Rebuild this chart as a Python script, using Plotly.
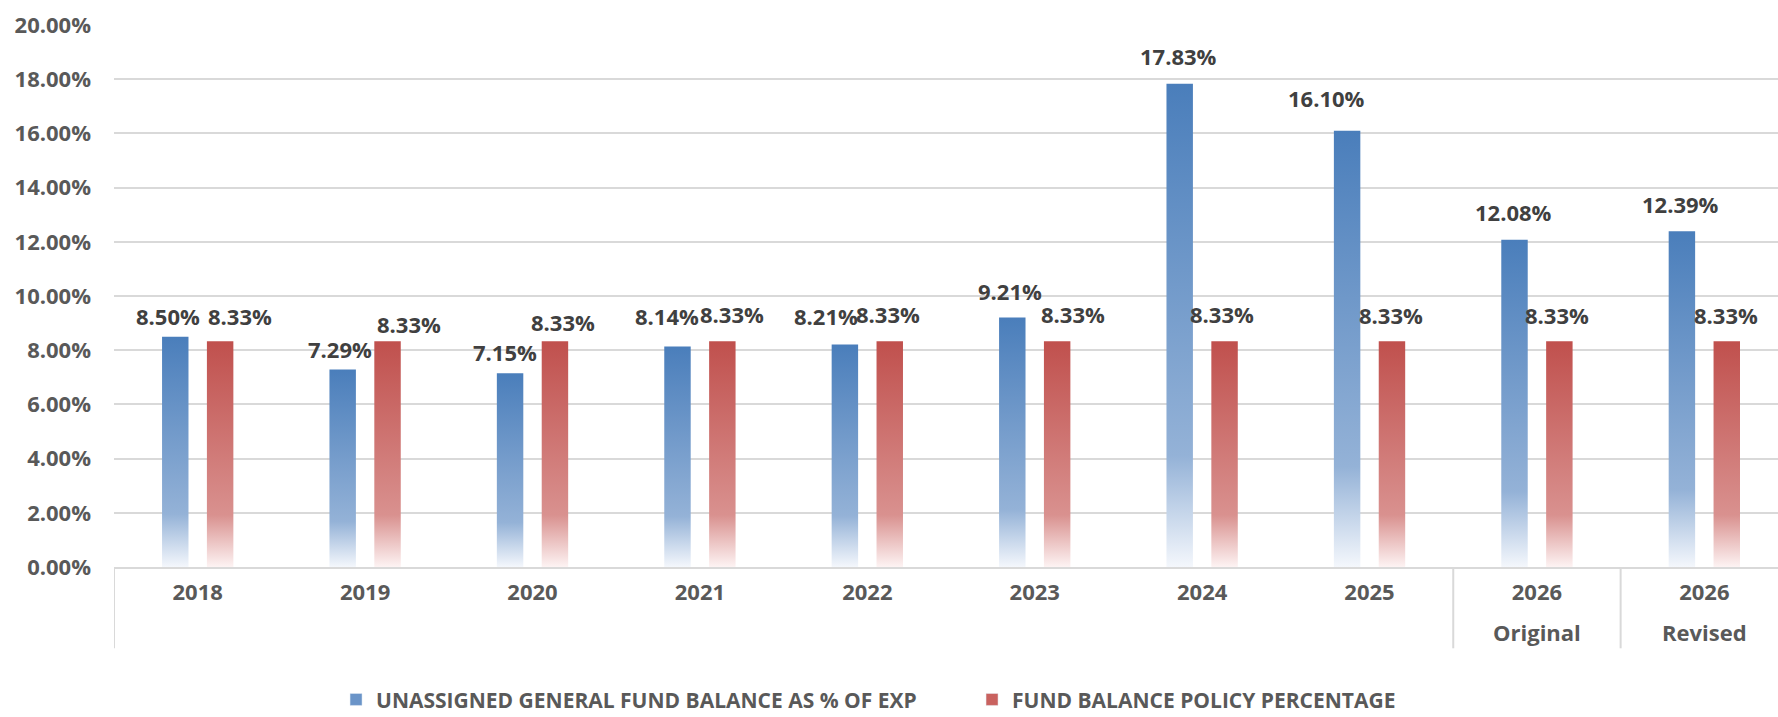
import plotly.graph_objects as go

# data
years = ['2018', '2019', '2020', '2021', '2022', '2023', '2024', '2025', '2026', '2026']
sub_labels = ['', '', '', '', '', '', '', '', 'Original', 'Revised']
unassigned_pct = [8.50, 7.29, 7.15, 8.14, 8.21, 9.21, 17.83, 16.10, 12.08, 12.39]
policy_pct = [8.33, 8.33, 8.33, 8.33, 8.33, 8.33, 8.33, 8.33, 8.33, 8.33]

SERIES_NAMES = ['UNASSIGNED GENERAL FUND BALANCE AS % OF EXP', 'FUND BALANCE POLICY PERCENTAGE']

# label nudges in px (dx, dy above bar top), like the hand-placed Excel labels
BLUE_NUDGE = [(-7, 21), (-3, 20), (-5, 21), (-10, 30), (-19, 29), (-2, 26), (-1, 28), (-21, 33), (-1, 28), (-1, 27)]
RED_NUDGE = [(20, 25), (21, 17), (8, 19), (10, 27), (-2, 27), (16, 27), (-3, 27), (-1, 26), (-2, 26), (-1, 26)]

BAR_OFFSET = 0.134
BAR_HALF = 0.079

BLUE_SCALE = [[0, '#f4f7fc'], [0.23, '#94b2d7'], [1, '#4a7ebb']]
RED_SCALE = [[0, '#fdf3f3'], [0.23, '#d9918f'], [1, '#c0504d']]

LABEL_COLOR = '#404040'
TICK_COLOR = '#595959'
GRID_COLOR = '#d9d9d9'
FONT = 'Open Sans'

fig = go.Figure()


def add_bars(values, offset, scale):
    for i, v in enumerate(values):
        c = i + offset
        fig.add_trace(go.Scatter(
            x=[c - BAR_HALF, c + BAR_HALF, c + BAR_HALF, c - BAR_HALF, c - BAR_HALF],
            y=[0, 0, v, v, 0],
            mode='lines',
            line=dict(width=0),
            fill='toself',
            fillgradient=dict(type='vertical', colorscale=scale),
            hoverinfo='skip',
            showlegend=False,
        ))


add_bars(unassigned_pct, -BAR_OFFSET, BLUE_SCALE)
add_bars(policy_pct, BAR_OFFSET, RED_SCALE)

# legend-only entries
fig.add_trace(go.Bar(x=[None], y=[None], name=SERIES_NAMES[0], marker_color='#6a94c8'))
fig.add_trace(go.Bar(x=[None], y=[None], name=SERIES_NAMES[1], marker_color='#c9625f'))

annotations = []
for values, offset, nudge in ((unassigned_pct, -BAR_OFFSET, BLUE_NUDGE), (policy_pct, BAR_OFFSET, RED_NUDGE)):
    for i, v in enumerate(values):
        annotations.append(dict(
            x=i + offset, y=v, xref='x', yref='y',
            text=f'{v:.2f}%', showarrow=False,
            xanchor='center', yanchor='middle',
            xshift=nudge[i][0], yshift=nudge[i][1],
            font=dict(family=FONT, size=22, color=LABEL_COLOR, weight='bold'),
        ))

# second line of the category labels
for i, s in enumerate(sub_labels):
    if s:
        annotations.append(dict(
            x=i, y=-0.12, xref='x', yref='paper', text=s, showarrow=False,
            xanchor='center', yanchor='middle',
            font=dict(family=FONT, size=22, color=TICK_COLOR, weight='bold'),
        ))

# category separators below the axis
shapes = []
for xs in (-0.5, 7.5, 8.5):
    shapes.append(dict(type='line', xref='x', yref='paper', x0=xs, x1=xs, y0=0, y1=-0.15,
                       line=dict(color=GRID_COLOR, width=2)))

fig.update_layout(
    width=1778, height=717,
    margin=dict(l=114, r=0, t=25, b=150),
    plot_bgcolor='white', paper_bgcolor='white',
    annotations=annotations,
    shapes=shapes,
    showlegend=True,
    legend=dict(
        orientation='h', xref='container', x=0.189, xanchor='left',
        yref='container', y=0.024, yanchor='middle',
        font=dict(family=FONT, size=21, color=TICK_COLOR, weight='bold'),
        entrywidth=591, bgcolor='rgba(0,0,0,0)',
    ),
    xaxis=dict(
        range=[-0.5, 9.44], tickvals=list(range(len(years))), ticktext=years,
        showgrid=False, zeroline=False, showline=True, linecolor=GRID_COLOR, linewidth=2,
        tickfont=dict(family=FONT, size=22, color=TICK_COLOR, weight='bold'),
        ticks='', ticklabelstandoff=5,
    ),
    yaxis=dict(
        range=[0, 20], dtick=2, tickformat='.2f', ticksuffix='%',
        showgrid=True, gridcolor=GRID_COLOR, gridwidth=1.5, zeroline=False,
        tickfont=dict(family=FONT, size=22, color=TICK_COLOR, weight='bold'),
        ticks='', ticklabelstandoff=22,
    ),
)

fig.write_html('out.html', config={'displayModeBar': False},
               post_script="document.body.style.margin='0';")
